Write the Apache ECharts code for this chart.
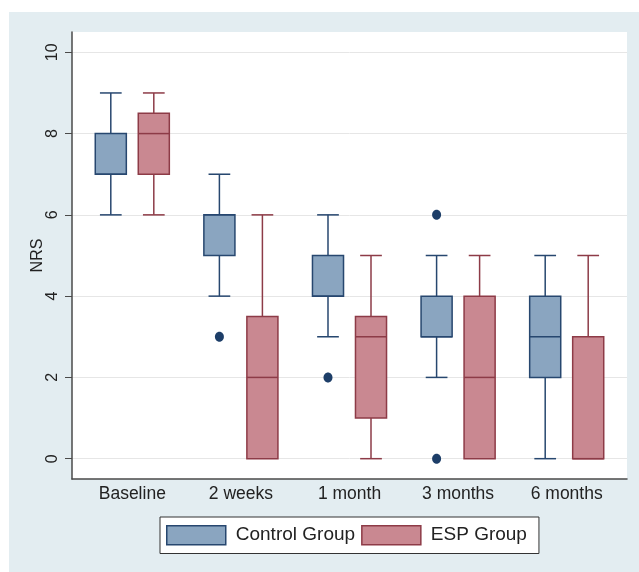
<!DOCTYPE html>
<html>
<head>
<meta charset="utf-8">
<script src="https://cdn.jsdelivr.net/npm/echarts@6/dist/echarts.min.js"></script>
<style>html,body{margin:0;padding:0;background:#fff}#c{width:639px;height:572px}</style>
</head>
<body>
<div id="c"></div>
<script>
var categories = ['Baseline', '2 weeks', '1 month', '3 months', '6 months'];
var seriesNames = ['Control Group', 'ESP Group'];
// [min, Q1, median, Q3, max]
var controlBoxes = [
  [6, 7, 7, 8, 9],
  [4, 5, 6, 6, 7],
  [3, 4, 4, 5, 6],
  [2, 3, 3, 4, 5],
  [0, 2, 3, 4, 5]
];
var espBoxes = [
  [6, 7, 8, 8.5, 9],
  [0, 0, 2, 3.5, 6],
  [0, 1, 3, 3.5, 5],
  [0, 0, 2, 4, 5],
  [0, 0, 0, 3, 5]
];
// outliers: [category index, value]
var controlOutliers = [[1, 3], [2, 2], [3, 6], [3, 0]];
var yTicks = [0, 2, 4, 6, 8, 10];
var yMin = -0.5, yMax = 10.5;

var FONT = "'Liberation Sans', Arial, sans-serif";
var colors = {
  control: {fill: '#8aa5c0', stroke: '#27476f'},
  esp: {fill: '#c98891', stroke: '#8d3b47'}
};
// layout fractions of the category band
var OFFSET = 0.198, BOX_HALF = 0.143, CAP_HALF = 0.1;

function withIndex(arr) {
  return arr.map(function (d, i) { return [i].concat(d); });
}

function boxRenderer(sign, col) {
  return function (params, api) {
    var cat = api.value(0);
    var band = api.size([1, 0])[0];
    var cx = api.coord([cat, 0])[0] + sign * OFFSET * band;
    var yOf = function (k) { return api.coord([cat, api.value(k)])[1]; };
    var yMinP = yOf(1), yQ1 = yOf(2), yMed = yOf(3), yQ3 = yOf(4), yMaxP = yOf(5);
    var bw = BOX_HALF * band, cw = CAP_HALF * band;
    var ls = {stroke: col.stroke, lineWidth: 1.5};
    var children = [];
    if (yMaxP < yQ3) {
      children.push({type: 'line', shape: {x1: cx, y1: yQ3, x2: cx, y2: yMaxP}, style: ls});
      children.push({type: 'line', shape: {x1: cx - cw, y1: yMaxP, x2: cx + cw, y2: yMaxP}, style: ls});
    }
    if (yMinP > yQ1) {
      children.push({type: 'line', shape: {x1: cx, y1: yQ1, x2: cx, y2: yMinP}, style: ls});
      children.push({type: 'line', shape: {x1: cx - cw, y1: yMinP, x2: cx + cw, y2: yMinP}, style: ls});
    }
    children.push({type: 'rect', shape: {x: cx - bw, y: yQ3, width: 2 * bw, height: yQ1 - yQ3},
      style: {fill: col.fill, stroke: col.stroke, lineWidth: 1.5}});
    children.push({type: 'line', shape: {x1: cx - bw, y1: yMed, x2: cx + bw, y2: yMed},
      style: {stroke: col.stroke, lineWidth: 1.5}});
    return {type: 'group', children: children};
  };
}

function outlierRenderer(params, api) {
  var cat = api.value(0);
  var band = api.size([1, 0])[0];
  var p = api.coord([cat, api.value(1)]);
  return {type: 'ellipse', shape: {cx: p[0] - OFFSET * band, cy: p[1], rx: 4.5, ry: 5},
    style: {fill: '#1d3e68'}};
}

var chart = echarts.init(document.getElementById('c'));
chart.setOption({
  animation: false,
  backgroundColor: '#ffffff',
  graphic: [{
    type: 'rect', z: -100, silent: true,
    shape: {x: 9, y: 12, width: 630, height: 560},
    style: {fill: '#e3edf1'}
  }],
  grid: [
    {left: 72, right: 12, top: 32, bottom: 93, show: true, backgroundColor: '#ffffff', borderWidth: 0},
    {left: 78, right: 18, top: 32, bottom: 93}
  ],
  xAxis: [
    {gridIndex: 0, type: 'value', min: 0, max: 1,
     axisLine: {show: true, onZero: false, lineStyle: {color: '#4a4a4a', width: 1.5}},
     axisTick: {show: false}, axisLabel: {show: false}, splitLine: {show: false}},
    {gridIndex: 1, type: 'category', data: categories,
     axisLine: {show: false}, axisTick: {show: false},
     axisLabel: {fontFamily: FONT, fontSize: 17.5, color: '#222', margin: 6}}
  ],
  yAxis: [
    {gridIndex: 0, type: 'value', min: yMin, max: yMax,
     name: 'NRS', nameLocation: 'middle', nameGap: 26, nameMoveOverlap: false,
     nameTextStyle: {fontFamily: FONT, fontSize: 16, color: '#222'},
     axisLine: {show: true, onZero: false, lineStyle: {color: '#4a4a4a', width: 1.5}},
     axisTick: {show: true, customValues: yTicks, length: 7, lineStyle: {color: '#4a4a4a'}},
     axisLabel: {customValues: yTicks, rotate: 90, fontFamily: FONT, fontSize: 16, color: '#222', margin: 11},
     splitLine: {show: true, lineStyle: {color: '#e6e6e6', width: 1}}},
    {gridIndex: 1, type: 'value', min: yMin, max: yMax, show: false}
  ],
  legend: {
    left: 160, top: 517,
    orient: 'horizontal',
    data: [
      {name: seriesNames[0], itemStyle: {color: colors.control.fill, borderColor: colors.control.stroke, borderWidth: 1.5}},
      {name: seriesNames[1], itemStyle: {color: colors.esp.fill, borderColor: colors.esp.stroke, borderWidth: 1.5}}
    ],
    icon: 'rect',
    itemWidth: 59, itemHeight: 19, itemGap: 6,
    padding: [8, 12, 8, 6],
    backgroundColor: '#ffffff',
    borderColor: '#333', borderWidth: 1,
    textStyle: {fontFamily: FONT, fontSize: 19, color: '#222', padding: [0, 0, 0, 5]}
  },
  series: [
    {name: seriesNames[0], type: 'custom', xAxisIndex: 1, yAxisIndex: 1,
     data: withIndex(controlBoxes), encode: {x: 0, y: [1, 2, 3, 4, 5]},
     itemStyle: {color: colors.control.fill, borderColor: colors.control.stroke},
     renderItem: boxRenderer(-1, colors.control)},
    {name: seriesNames[1], type: 'custom', xAxisIndex: 1, yAxisIndex: 1,
     data: withIndex(espBoxes), encode: {x: 0, y: [1, 2, 3, 4, 5]},
     itemStyle: {color: colors.esp.fill, borderColor: colors.esp.stroke},
     renderItem: boxRenderer(1, colors.esp)},
    {name: 'outliers', type: 'custom', xAxisIndex: 1, yAxisIndex: 1,
     data: controlOutliers, encode: {x: 0, y: 1},
     renderItem: outlierRenderer}
  ]
});
</script>
</body>
</html>
